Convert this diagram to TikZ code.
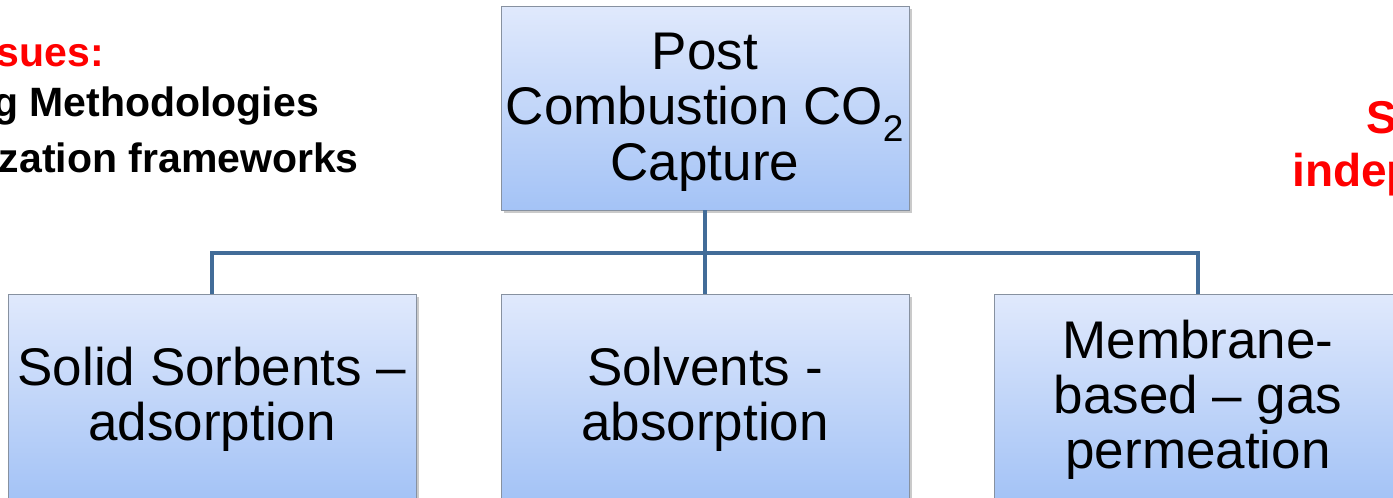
\documentclass[tikz,border=0pt]{standalone}
\usepackage{fontspec}
\setmainfont{Liberation Sans}
\usetikzlibrary{shadows}
\definecolor{boxtop}{RGB}{224,233,252}
\definecolor{boxbot}{RGB}{164,195,246}
\definecolor{boxline}{RGB}{135,145,160}
\definecolor{linkblue}{RGB}{66,108,152}
\definecolor{alertred}{RGB}{255,0,0}
% centred lines, set a little below the box centre (box size kept)
\newcommand{\boxlines}[1]{\raisebox{-6pt}[\height][\depth]{\begin{tabular}{@{}c@{}}#1\end{tabular}}}
\tikzset{
  stepbox/.style={draw=boxline, line width=0.8pt, top color=boxtop, bottom color=boxbot,
    minimum width=408pt, minimum height=204pt, inner sep=0pt, align=center,
    font=\fontsize{53}{55}\selectfont,
    drop shadow={shadow xshift=2.5pt, shadow yshift=-2.5pt, opacity=0.35, fill=black!60}},
  linkline/.style={draw=linkblue, line width=4pt},
  sidenote/.style={inner sep=0pt, font=\bfseries\fontsize{41}{48}\selectfont},
}
\begin{document}
\begin{tikzpicture}[x=1pt,y=-1pt]
\useasboundingbox (0,0) rectangle (1393,498);
\clip (0,0) rectangle (1393,498);

% boxes of the tree
\node[stepbox] (root) at (705,108) {\boxlines{Post\\Combustion CO\textsubscript{2}\\Capture}};
\node[stepbox] (solid) at (212,396) {\boxlines{Solid Sorbents --\\adsorption}};
\node[stepbox] (solv) at (705,396) {\boxlines{Solvents -\\absorption}};
\node[stepbox] (memb) at (1198,396) {\boxlines{Membrane-\\based -- gas\\permeation}};

% elbow connectors
\coordinate (bus) at (705,253);
\draw[linkline] (root.south) -- (solv.north);
\draw[linkline] (solid.north) -- (solid.north |- bus) -- (memb.north |- bus) -- (memb.north);

% side notes
\node[sidenote, anchor=east, text=alertred] (iss) at (104,56) {sues:};
\node[sidenote, anchor=east] (meth) at (319,106) {g Methodologies};
\node[sidenote, anchor=east] (frame) at (359,158) {zation frameworks};
\node[sidenote, anchor=west, text=alertred, font=\bfseries\fontsize{46}{50}\selectfont] (sfree) at (1366,118) {S};
\node[sidenote, anchor=west, text=alertred, font=\bfseries\fontsize{46}{50}\selectfont] (indep) at (1292,175) {indep};
\end{tikzpicture}
\end{document}
